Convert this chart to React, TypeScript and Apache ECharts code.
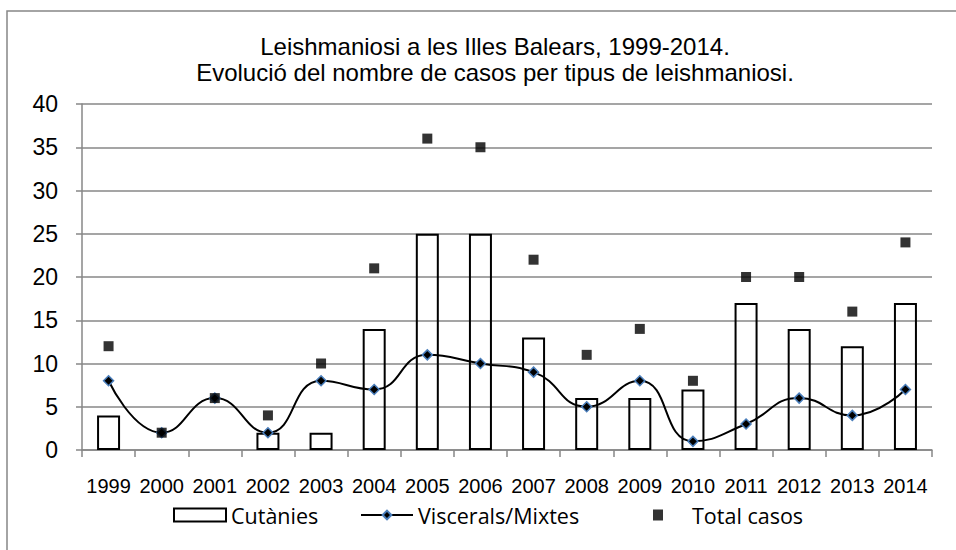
import React, { useEffect, useRef } from "react";
import * as echarts from "echarts";

const years = ["1999","2000","2001","2002","2003","2004","2005","2006","2007","2008","2009","2010","2011","2012","2013","2014"];
const cutanies = [4, 0, 0, 2, 2, 14, 25, 25, 13, 6, 6, 7, 17, 14, 12, 17];
const visceralsMixtes = [8, 2, 6, 2, 8, 7, 11, 10, 9, 5, 8, 1, 3, 6, 4, 7];
const totalCasos = [12, 2, 6, 4, 10, 21, 36, 35, 22, 11, 14, 8, 20, 20, 16, 24];
const titleLines = ["Leishmaniosi a les Illes Balears, 1999-2014.", "Evolució del nombre de casos per tipus de leishmaniosi."];

const AXIS_FONT = "'Liberation Sans', Arial, sans-serif";
const LEGEND_FONT = "'Open Sans', 'Noto Sans', sans-serif";
const GRAY = "#878787";

export default function App() {
  const ref = useRef<HTMLDivElement>(null);
  useEffect(() => {
    if (!ref.current) return;
    const chart = echarts.init(ref.current, null, { renderer: "svg" });
    const legendText = { fontFamily: LEGEND_FONT, fontSize: 21.5, color: "#000" };
    chart.setOption({
      animation: false,
      backgroundColor: "#fff",
      title: {
        text: titleLines.join("\n"),
        left: 490,
        top: 28,
        textAlign: "center",
        textStyle: { fontFamily: AXIS_FONT, fontSize: 24, fontWeight: "normal", color: "#000", lineHeight: 26 },
      },
      graphic: [
        { type: "rect", shape: { x: 7, y: 11, width: 960, height: 560 }, style: { fill: "none", stroke: GRAY, lineWidth: 1.5 }, silent: true },
      ],
      legend: [
        {
          data: [{ name: "Cutànies", icon: "rect" }],
          left: 173, top: 504, padding: 0, itemWidth: 52, itemHeight: 13,
          textStyle: legendText,
        },
        {
          data: ["Viscerals/Mixtes"],
          left: 360, top: 504, padding: 0, itemWidth: 52, itemHeight: 11,
          textStyle: legendText,
        },
        {
          data: [{ name: "Total casos", icon: "rect" }],
          left: 653, top: 504, padding: 0, itemWidth: 10, itemHeight: 11,
          textStyle: { ...legendText, padding: [0, 0, 0, 24] },
        },
      ],
      grid: { left: 82, right: 24, top: 104, bottom: 100, containLabel: false },
      xAxis: {
        type: "category",
        data: years,
        boundaryGap: true,
        axisLine: { lineStyle: { color: GRAY, width: 1.5 } },
        axisTick: { show: true, length: 7, lineStyle: { color: GRAY, width: 1.5 } },
        axisLabel: { fontFamily: AXIS_FONT, fontSize: 20, color: "#000", margin: 26, interval: 0, hideOverlap: false },
      },
      yAxis: {
        type: "value",
        min: 0, max: 40, interval: 5,
        axisLine: { show: true, lineStyle: { color: GRAY, width: 1.5 } },
        axisTick: { show: true, length: 6, lineStyle: { color: GRAY, width: 1.5 } },
        splitLine: { lineStyle: { color: GRAY, width: 1.5 } },
        axisLabel: { fontFamily: AXIS_FONT, fontSize: 23, color: "#000", margin: 24 },
      },
      series: [
        {
          name: "Cutànies",
          type: "bar",
          data: cutanies.map((v) => (v === 0 ? null : v)),
          barWidth: 23,
          z: 2,
          itemStyle: { color: "rgba(255,255,255,0)", borderColor: "#000", borderWidth: 2 },
        },
        {
          name: "Viscerals/Mixtes",
          type: "line",
          data: visceralsMixtes,
          smooth: 0.5,
          symbol: "diamond",
          symbolSize: 10,
          z: 3,
          lineStyle: { color: "#000", width: 2 },
          itemStyle: { color: "#000", borderColor: "#4a7ebb", borderWidth: 1.5 },
        },
        {
          name: "Total casos",
          type: "scatter",
          data: totalCasos,
          symbol: "rect",
          symbolSize: 10,
          z: 4,
          itemStyle: { color: "#000" },
        },
      ],
    });
    return () => chart.dispose();
  }, []);
  return <div ref={ref} style={{ position: "absolute", left: 0, top: 0, width: 956, height: 550 }} />;
}
